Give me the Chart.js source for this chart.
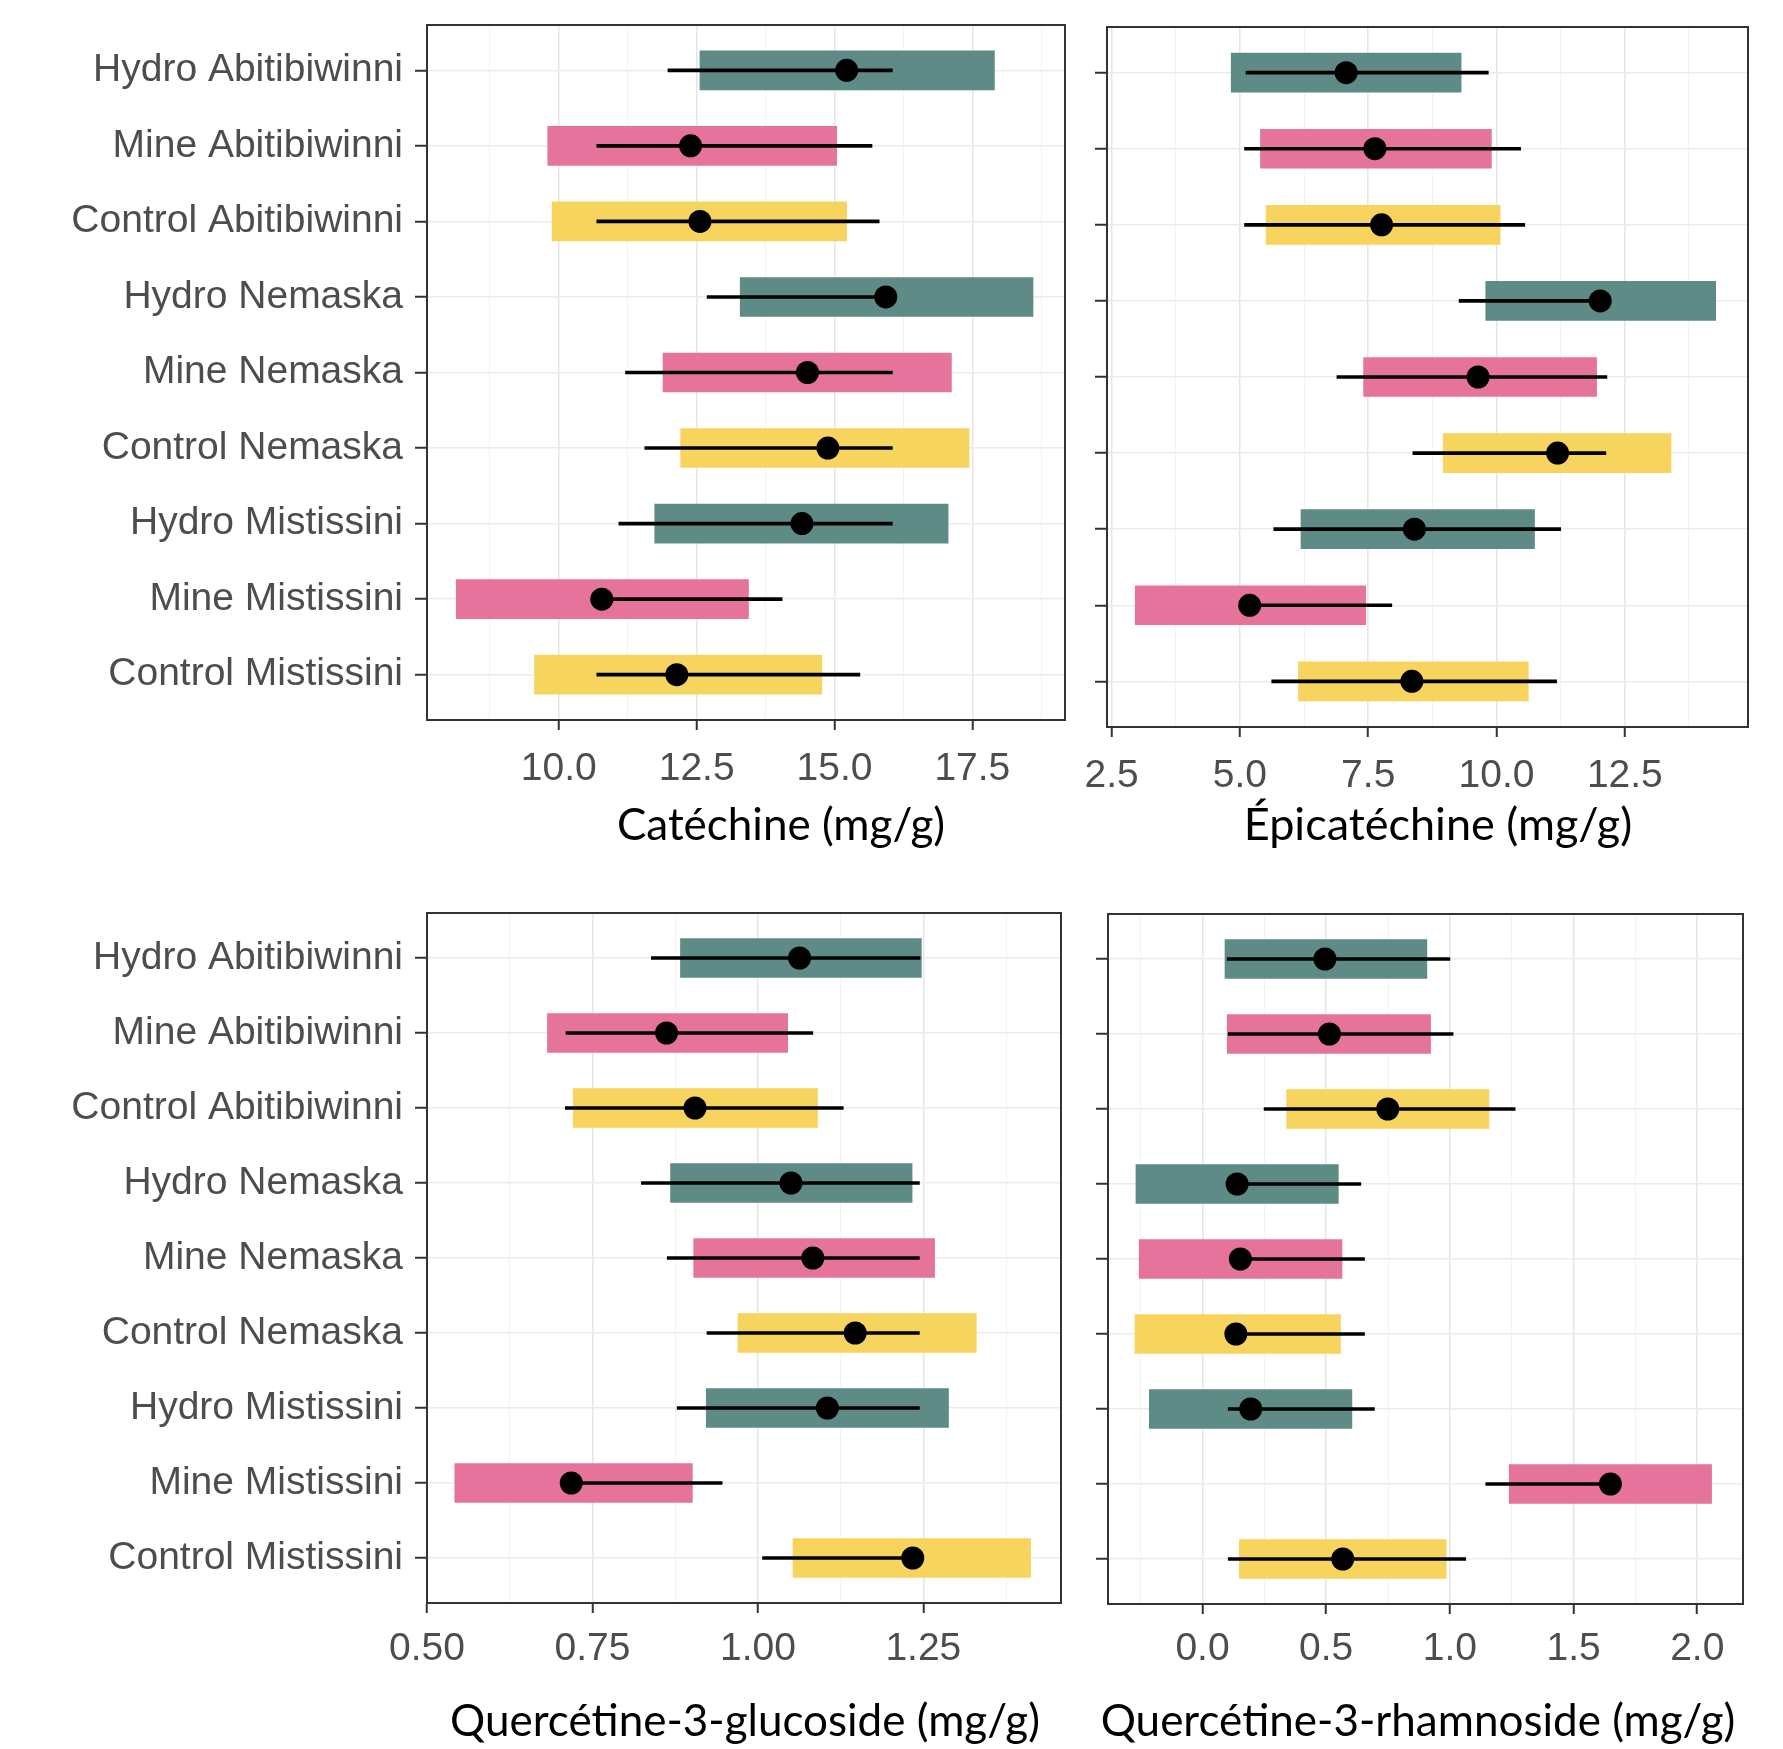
<!DOCTYPE html>
<html>
<head>
<meta charset="utf-8">
<title>Composés phénoliques</title>
<script src="https://cdn.jsdelivr.net/npm/chart.js@4.4.1/dist/chart.umd.min.js"></script>
<style>
  html, body { margin: 0; padding: 0; background: #fff; }
  #page { position: relative; width: 1783px; height: 1749px; overflow: hidden; }
  canvas { position: absolute; }
  .xtitle {
    position: absolute;
    font-family: Lato, 'Open Sans', sans-serif;
    font-size: 44px;
    line-height: 1;
    color: #000;
    white-space: nowrap;
    transform: translate(-50%, -50%);
  }
</style>
</head>
<body>
<div id="page">
  <canvas id="cat" width="1080" height="870" style="left:0;top:0"></canvas>
  <canvas id="epi" width="703" height="870" style="left:1080px;top:0"></canvas>
  <canvas id="glu" width="1080" height="879" style="left:0;top:870px"></canvas>
  <canvas id="rha" width="703" height="879" style="left:1080px;top:870px"></canvas>
  <div class="xtitle" style="left:781px;top:823px">Catéchine (mg/g)</div>
  <div class="xtitle" style="left:1438px;top:823px;font-size:45px">Épicatéchine (mg/g)</div>
  <div class="xtitle" style="left:745px;top:1719px">Quercétine-3-glucoside (mg/g)</div>
  <div class="xtitle" style="left:1418px;top:1719px">Quercétine-3-rhamnoside (mg/g)</div>
</div>
<script>
const categories = ['Hydro Abitibiwinni', 'Mine Abitibiwinni', 'Control Abitibiwinni',
                    'Hydro Nemaska', 'Mine Nemaska', 'Control Nemaska',
                    'Hydro Mistissini', 'Mine Mistissini', 'Control Mistissini'];
const groupColors = ['#5e8b85', '#e6739b', '#f6d45e']; // Hydro, Mine, Control

// Catéchine
const catBox = [[12.56, 17.90], [9.80, 15.04], [9.88, 15.22], [13.29, 18.60], [11.89, 17.12],
                [12.21, 17.44], [11.74, 17.06], [8.14, 13.44], [9.56, 14.77]];
const catCI = [[11.98, 16.05], [10.69, 15.68], [10.69, 15.81], [12.69, 16.05], [11.21, 16.05],
               [11.56, 16.05], [11.09, 16.05], [10.70, 14.05], [10.69, 15.46]];
const catMean = [15.22, 12.39, 12.56, 15.93, 14.51, 14.88, 14.41, 10.78, 12.14];
const catTicks = [10.0, 12.5, 15.0, 17.5];

// Épicatéchine
const epiBox = [[4.83, 9.31], [5.40, 9.90], [5.51, 10.07], [9.79, 14.27], [7.41, 11.95],
                [8.96, 13.40], [6.19, 10.74], [2.96, 7.45], [6.14, 10.62]];
const epiCI = [[5.12, 9.84], [5.09, 10.47], [5.09, 10.55], [9.27, 12.02], [6.89, 12.15],
               [8.37, 12.13], [5.66, 11.25], [5.10, 7.96], [5.62, 11.17]];
const epiMean = [7.07, 7.63, 7.76, 12.02, 9.64, 11.19, 8.40, 5.19, 8.35];
const epiTicks = [2.5, 5.0, 7.5, 10.0, 12.5];

// Quercétine-3-glucoside
const gluBox = [[0.883, 1.247], [0.682, 1.045], [0.721, 1.090], [0.868, 1.233], [0.903, 1.267],
                [0.970, 1.330], [0.922, 1.288], [0.542, 0.901], [1.053, 1.412]];
const gluCI = [[0.839, 1.245], [0.710, 1.083], [0.709, 1.129], [0.824, 1.244], [0.863, 1.244],
               [0.923, 1.244], [0.878, 1.244], [0.712, 0.946], [1.007, 1.234]];
const gluMean = [1.063, 0.862, 0.905, 1.050, 1.083, 1.147, 1.105, 0.718, 1.234];
const gluTicks = [0.50, 0.75, 1.00, 1.25];

// Quercétine-3-rhamnoside
const rhaBox = [[0.091, 0.907], [0.100, 0.922], [0.340, 1.158], [-0.269, 0.549], [-0.256, 0.564],
                [-0.273, 0.558], [-0.215, 0.604], [1.240, 2.058], [0.149, 0.985]];
const rhaCI = [[0.100, 1.000], [0.104, 1.013], [0.249, 1.264], [0.130, 0.640], [0.140, 0.655],
               [0.125, 0.655], [0.104, 0.695], [1.145, 1.649], [0.104, 1.064]];
const rhaMean = [0.495, 0.513, 0.749, 0.140, 0.153, 0.135, 0.195, 1.649, 0.567];
const rhaTicks = [0.0, 0.5, 1.0, 1.5, 2.0];

const textFont = "'Liberation Sans', Arial, sans-serif";

// black box round the plot area, like theme_bw
const panelBorder = {
  id: 'panelBorder',
  afterDatasetsDraw(chart) {
    const { ctx, chartArea: a } = chart;
    ctx.save();
    ctx.strokeStyle = '#333';
    ctx.lineWidth = 2;
    ctx.strokeRect(a.left, a.top, a.right - a.left, a.bottom - a.top);
    ctx.restore();
  }
};

function withMinor(ticks, min, max) {
  const step = ticks[1] - ticks[0];
  const all = ticks.map(v => ({ value: v, minor: false }));
  [ticks[0] - step / 2, ...ticks.map(v => v + step / 2)].forEach(v => {
    if (v > min && v < max) all.push({ value: v, minor: true });
  });
  return all.sort((a, b) => a.value - b.value);
}

function makePanel(id, box, ci, mean, ticks, p) {
  const rows = categories.map((c, i) => i);
  new Chart(document.getElementById(id), {
    type: 'bar',
    data: {
      datasets: [
        {
          type: 'bar',
          data: rows.map(i => ({ x: box[i], y: i })),
          backgroundColor: rows.map(i => groupColors[i % 3]),
          barThickness: 39,
          grouped: false,
          order: 3
        },
        {
          type: 'bar',
          data: rows.map(i => ({ x: ci[i], y: i })),
          backgroundColor: '#000',
          barThickness: 3,
          grouped: false,
          order: 2
        },
        {
          type: 'scatter',
          data: rows.map(i => ({ x: mean[i], y: i })),
          backgroundColor: '#000',
          borderWidth: 0,
          pointRadius: 11.5,
          order: 1
        }
      ]
    },
    options: {
      responsive: false,
      animation: false,
      indexAxis: 'y',
      layout: { padding: { top: p.padTop, right: p.padRight, left: 0, bottom: 0 } },
      plugins: { legend: { display: false }, tooltip: { enabled: false } },
      scales: {
        x: {
          type: 'linear',
          min: p.min,
          max: p.max,
          afterBuildTicks: s => { s.ticks = withMinor(ticks, p.min, p.max); },
          afterFit: s => { s.height = p.xHeight; s.paddingLeft = 0; s.paddingRight = 0; },
          border: { display: false },
          grid: {
            color: c => (c.tick && c.tick.minor) ? '#f3f3f3' : '#e6e6e6',
            lineWidth: c => (c.tick && c.tick.minor) ? 1 : 1.5,
            tickLength: 10,
            tickWidth: 2,
            tickColor: c => (c.tick && c.tick.minor) ? 'rgba(0,0,0,0)' : '#333'
          },
          ticks: {
            autoSkip: false,
            maxRotation: 0,
            minRotation: 0,
            padding: p.labelPad,
            color: '#4d4d4d',
            font: { family: textFont, size: 39 },
            callback: (v, i, all) => all[i].minor ? '' : v.toFixed(p.decimals)
          }
        },
        y: {
          type: 'linear',
          min: -0.6,
          max: 8.6,
          reverse: true,
          offset: false,
          afterBuildTicks: s => { s.ticks = rows.map(i => ({ value: i })); },
          afterFit: s => { s.width = p.yWidth; s.paddingTop = 0; s.paddingBottom = 0; },
          border: { display: false },
          grid: {
            offset: false,
            color: '#ebebeb',
            lineWidth: 1.5,
            tickLength: 12,
            tickWidth: 2,
            tickColor: '#333'
          },
          ticks: {
            autoSkip: false,
            padding: 12,
            color: '#4d4d4d',
            font: { family: textFont, size: 39 },
            callback: v => p.showLabels ? categories[v] : ''
          }
        }
      }
    },
    plugins: [panelBorder]
  });
}

makePanel('cat', catBox, catCI, catMean, catTicks,
  { min: 7.61, max: 19.18, decimals: 1, yWidth: 427, xHeight: 150, padTop: 25, padRight: 15, labelPad: 16, showLabels: true });
makePanel('epi', epiBox, epiCI, epiMean, epiTicks,
  { min: 2.41, max: 14.90, decimals: 1, yWidth: 27, xHeight: 143, padTop: 27, padRight: 35, labelPad: 16, showLabels: false });
makePanel('glu', gluBox, gluCI, gluMean, gluTicks,
  { min: 0.5, max: 1.458, decimals: 2, yWidth: 427, xHeight: 146, padTop: 43, padRight: 19, labelPad: 13, showLabels: true });
makePanel('rha', rhaBox, rhaCI, rhaMean, rhaTicks,
  { min: -0.382, max: 2.185, decimals: 1, yWidth: 28, xHeight: 145, padTop: 44, padRight: 40, labelPad: 12, showLabels: false });
</script>
</body>
</html>
